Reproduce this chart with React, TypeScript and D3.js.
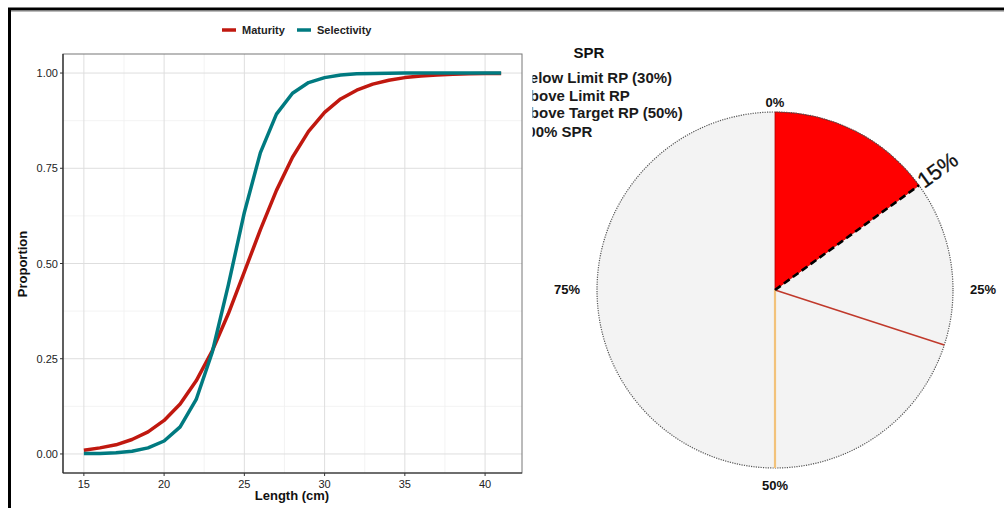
import React from "react";
import * as d3 from "d3";

const lengths = [15,16,17,18,19,20,21,22,23,24,25,26,27,28,29,30,31,32,33,34,35,36,37,38,39,40,41];
const maturity = [0.010,0.016,0.024,0.038,0.058,0.088,0.131,0.192,0.271,0.368,0.478,0.589,0.692,0.779,0.847,0.897,0.932,0.955,0.971,0.981,0.988,0.992,0.995,0.997,0.998,0.999,0.999];
const selectivity = [0.001,0.0015,0.0034,0.0073,0.016,0.034,0.071,0.143,0.267,0.443,0.634,0.791,0.892,0.947,0.975,0.988,0.995,0.998,0.999,0.9995,1,1,1,1,1,1,1];
const xTicks = [15,20,25,30,35,40];
const yTicks = [0,0.25,0.5,0.75,1];
const seriesNames = ["Maturity","Selectivity"];
const seriesColors = ["#c0180f","#007a80"];

const sprValue = 0.15;
const limitRP = 0.30;
const targetRP = 0.50;
const pieTicks = [0,0.25,0.5,0.75];
const sprLegend = ["Below Limit RP (30%)","Above Limit RP","Above Target RP (50%)","100% SPR"];

export default function App() {
  const font = "'Liberation Sans', Arial, Helvetica, sans-serif";
  const x = d3.scaleLinear().domain([15 - 1.3, 41 + 1.3]).range([63, 522]);
  const y = d3.scaleLinear().domain([-0.05, 1.05]).range([473, 54]);
  const line = d3.line<[number, number]>().x(d => x(d[0])).y(d => y(d[1]));
  const matPts = lengths.map((l, i) => [l, maturity[i]] as [number, number]);
  const selPts = lengths.map((l, i) => [l, selectivity[i]] as [number, number]);
  const xMinor = xTicks.slice(0, -1).map(t => t + 2.5).concat([12.5, 42.5]).filter(t => t > x.domain()[0] && t < x.domain()[1]);
  const yMinor = [0.125, 0.375, 0.625, 0.875];

  // pie
  const cx = 775, cy = 290, R = 178;
  const ang = (p: number) => p * 2 * Math.PI;
  const pt = (p: number, r: number) => [cx + r * Math.sin(ang(p)), cy - r * Math.cos(ang(p))];
  const arc = d3.arc<any>().innerRadius(0).outerRadius(R);
  const redPath = arc({ startAngle: 0, endAngle: ang(sprValue) }) as string;
  const s15 = pt(sprValue, R);
  const l30 = pt(limitRP, R);
  const t50 = pt(targetRP, R);
  const lab15 = pt(sprValue, R + 2);

  return (
    <svg width={1004} height={508} style={{ position: "absolute", left: 0, top: 0, background: "#fff" }} fontFamily={font}>
      <defs>
        <clipPath id="legclip"><rect x={532.5} y={60} width={200} height={90} /></clipPath>
      </defs>
      {/* frame */}
      <rect x={0} y={0} width={1004} height={508} fill="#fff" />
      <line x1={8} x2={1004} y1={9} y2={9} stroke="#000" strokeWidth={3} />
      <line x1={8} x2={1004} y1={11.5} y2={11.5} stroke="#bbb" strokeWidth={1} />
      <line x1={9.5} x2={9.5} y1={8} y2={508} stroke="#000" strokeWidth={3} />

      {/* left panel */}
      <rect x={63} y={54} width={459} height={419} fill="#fff" />
      {xMinor.map(t => <line key={"xm" + t} x1={x(t)} x2={x(t)} y1={54} y2={473} stroke="#f0f0f0" strokeWidth={0.8} />)}
      {yMinor.map(t => <line key={"ym" + t} x1={63} x2={522} y1={y(t)} y2={y(t)} stroke="#f0f0f0" strokeWidth={0.8} />)}
      {xTicks.map(t => <line key={"xg" + t} x1={x(t)} x2={x(t)} y1={54} y2={473} stroke="#dedede" strokeWidth={1} />)}
      {yTicks.map(t => <line key={"yg" + t} x1={63} x2={522} y1={y(t)} y2={y(t)} stroke="#dedede" strokeWidth={1} />)}
      <path d={line(matPts) as string} fill="none" stroke={seriesColors[0]} strokeWidth={3.5} strokeLinejoin="round" />
      <path d={line(selPts) as string} fill="none" stroke={seriesColors[1]} strokeWidth={3.5} strokeLinejoin="round" />
      <rect x={63} y={54} width={459} height={419} fill="none" stroke="#777" strokeWidth={1} />
      <line x1={63} x2={63} y1={54} y2={473} stroke="#222" strokeWidth={1.2} />
      <line x1={63} x2={522} y1={473} y2={473} stroke="#222" strokeWidth={1.2} />
      {xTicks.map(t => (
        <g key={"xt" + t}>
          <line x1={x(t)} x2={x(t)} y1={473} y2={476} stroke="#333" />
          <text x={x(t)} y={488} textAnchor="middle" fontSize={11} fill="#222">{t}</text>
        </g>
      ))}
      {yTicks.map(t => (
        <g key={"yt" + t}>
          <line x1={60} x2={63} y1={y(t)} y2={y(t)} stroke="#333" />
          <text x={58} y={y(t) + 4} textAnchor="end" fontSize={11} fill="#222">{t.toFixed(2)}</text>
        </g>
      ))}
      <text x={292} y={500} textAnchor="middle" fontSize={13} fontWeight="bold" fill="#111">Length (cm)</text>
      <text transform={`translate(27,264) rotate(-90)`} textAnchor="middle" fontSize={13} fontWeight="bold" fill="#111">Proportion</text>

      {/* top legend */}
      <line x1={222} x2={236} y1={30} y2={30} stroke={seriesColors[0]} strokeWidth={3.5} />
      <text x={242} y={34} fontSize={11} fontWeight="bold" fill="#222">{seriesNames[0]}</text>
      <line x1={297} x2={311} y1={30} y2={30} stroke={seriesColors[1]} strokeWidth={3.5} />
      <text x={317} y={34} fontSize={11} fontWeight="bold" fill="#222">{seriesNames[1]}</text>

      {/* right panel: pie */}
      <circle cx={cx} cy={cy} r={R} fill="#f3f3f3" />
      <path d={redPath} transform={`translate(${cx},${cy})`} fill="#ff0000" stroke="#b00000" strokeWidth={0.8} />
      <circle cx={cx} cy={cy} r={R} fill="none" stroke="#555" strokeWidth={1.2} strokeDasharray="1.2,1.2" />
      <line x1={cx} y1={cy} x2={l30[0]} y2={l30[1]} stroke="#c0392b" strokeWidth={1.5} />
      <line x1={cx} y1={cy} x2={t50[0]} y2={t50[1]} stroke="#f2c27a" strokeWidth={2.2} />
      <line x1={cx} y1={cy} x2={s15[0]} y2={s15[1]} stroke="#000" strokeWidth={2.6} strokeDasharray="7,4" />
      {pieTicks.map(p => {
        const [px, py] = pt(p, R + 14);
        const dx = p === 0.25 ? 16 : p === 0.75 ? -16 : 0;
        const dy = p === 0 ? 9 : p === 0.5 ? 8 : 4;
        return <text key={"pl" + p} x={px + dx} y={py + dy} textAnchor="middle" fontSize={13} fontWeight="bold" fill="#111">{`${p * 100}%`}</text>;
      })}
      <text transform={`translate(${lab15[0]},${lab15[1]}) rotate(${-(90 - sprValue * 360)}) translate(0,6)`} textAnchor="start" fontSize={22} fill="#111" stroke="#111" strokeWidth={0.3}>{`${sprValue * 100}%`}</text>

      {/* SPR legend (clipped at left) */}
      <text x={589} y={58} textAnchor="middle" fontSize={15} fontWeight="bold" fill="#111">SPR</text>
      <g clipPath="url(#legclip)">
        {sprLegend.map((s, i) => (
          <text key={s} x={519} y={[83, 101, 118, 137][i]} fontSize={15} fill="#1a1a1a" fontWeight="bold">{s}</text>
        ))}
      </g>
    </svg>
  );
}
